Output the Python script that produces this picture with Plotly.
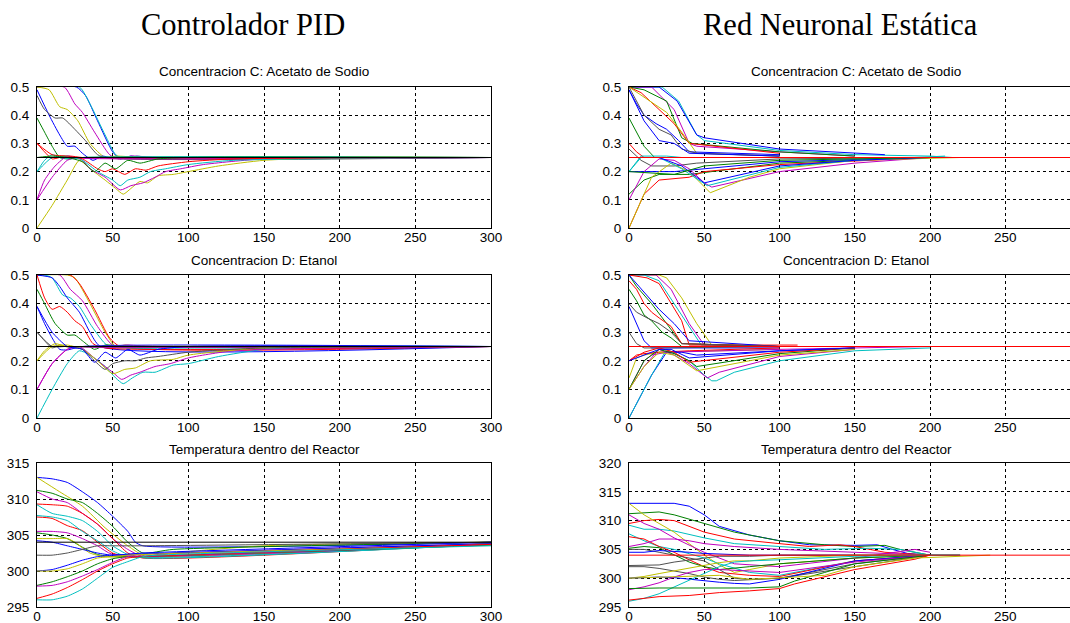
import plotly.graph_objects as go

# ---------------- data ----------------
COLORS = {"b": "#0000FF", "g": "#008000", "r": "#FF0000", "c": "#00BFBF",
          "m": "#BF00BF", "y": "#BFBF00", "k": "#505050"}

main_titles = ["Controlador PID", "Red Neuronal Estática"]
panel_titles = ["Concentracion C: Acetato de Sodio", "Concentracion D: Etanol",
                "Temperatura dentro del Reactor"]

x_ticks_pid = [0, 50, 100, 150, 200, 250, 300]
x_ticks_rn = [0, 50, 100, 150, 200, 250]
conc_ticks = [0, 0.1, 0.2, 0.3, 0.4, 0.5]
temp_ticks_pid = [295, 300, 305, 310, 315]
temp_ticks_rn = [295, 300, 305, 310, 315, 320]

setpoint_conc = 0.25
setpoint_temp = 304

# PID - Concentracion C
pid_c = [
    ("b", [0, 26, 32, 40, 50, 55, 62, 70, 85, 300], [0.5, 0.5, 0.47, 0.38, 0.27, 0.245, 0.255, 0.248, 0.25, 0.25]),
    ("c", [0, 28, 35, 45, 52, 58, 66, 75, 100, 300], [0.5, 0.5, 0.44, 0.33, 0.26, 0.245, 0.255, 0.248, 0.25, 0.25]),
    ("m", [0, 18, 25, 30, 38, 48, 54, 62, 80, 300], [0.5, 0.5, 0.44, 0.41, 0.34, 0.26, 0.245, 0.255, 0.25, 0.25]),
    ("y", [0, 8, 15, 20, 27, 35, 45, 52, 70, 300], [0.5, 0.49, 0.43, 0.42, 0.38, 0.3, 0.25, 0.255, 0.25, 0.25]),
    ("b", [0, 8, 15, 20, 25, 30, 37, 43, 50, 300], [0.49, 0.4, 0.33, 0.29, 0.29, 0.265, 0.24, 0.255, 0.248, 0.25]),
    ("k", [0, 5, 12, 17, 25, 32, 40, 47, 300], [0.47, 0.42, 0.39, 0.39, 0.35, 0.31, 0.26, 0.248, 0.25]),
    ("g", [0, 5, 10, 15, 20, 30, 300], [0.39, 0.34, 0.29, 0.25, 0.245, 0.25, 0.25]),
    ("r", [0, 5, 10, 15, 22, 30, 300], [0.3, 0.27, 0.245, 0.25, 0.255, 0.25, 0.25]),
    ("c", [0, 5, 10, 15, 22, 30, 300], [0.2, 0.24, 0.26, 0.25, 0.245, 0.25, 0.25]),
    ("m", [0, 5, 12, 20, 27, 300], [0.1, 0.17, 0.22, 0.255, 0.248, 0.25]),
    ("y", [0, 10, 20, 28, 35, 45, 52, 57, 62, 68, 73, 80, 90, 100, 120, 150, 200, 300],
     [0, 0.08, 0.17, 0.24, 0.21, 0.17, 0.14, 0.12, 0.14, 0.165, 0.16, 0.185, 0.19, 0.2, 0.22, 0.24, 0.25, 0.25]),
    ("m", [0, 10, 20, 28, 35, 45, 55, 62, 70, 78, 85, 95, 110, 150, 300],
     [0.1, 0.18, 0.24, 0.25, 0.21, 0.18, 0.135, 0.15, 0.16, 0.18, 0.2, 0.21, 0.225, 0.245, 0.25]),
    ("c", [0, 10, 20, 30, 40, 50, 55, 60, 68, 75, 85, 100, 130, 300],
     [0.2, 0.25, 0.255, 0.24, 0.2, 0.17, 0.15, 0.17, 0.18, 0.2, 0.21, 0.225, 0.24, 0.25]),
    ("r", [0, 10, 20, 30, 40, 45, 50, 58, 65, 72, 80, 100, 130, 300],
     [0.3, 0.26, 0.255, 0.245, 0.21, 0.2, 0.21, 0.19, 0.21, 0.205, 0.22, 0.235, 0.245, 0.25]),
    ("g", [0, 10, 20, 30, 38, 45, 52, 60, 68, 80, 100, 300],
     [0.25, 0.255, 0.25, 0.235, 0.2, 0.23, 0.21, 0.24, 0.23, 0.245, 0.25, 0.25]),
]

# Red Neuronal - Concentracion C
rn_c = [
    ("c", [0, 22, 33, 45, 50, 100, 150, 200, 215], [0.5, 0.5, 0.45, 0.33, 0.31, 0.275, 0.26, 0.255, 0.25]),
    ("b", [0, 20, 32, 45, 50, 100, 170], [0.5, 0.5, 0.45, 0.33, 0.32, 0.28, 0.26]),
    ("m", [0, 15, 30, 40, 45, 100, 150], [0.5, 0.5, 0.42, 0.3, 0.29, 0.27, 0.255]),
    ("g", [0, 10, 25, 35, 42, 100, 150], [0.5, 0.49, 0.45, 0.32, 0.3, 0.27, 0.255]),
    ("r", [0, 8, 20, 30, 40, 100], [0.5, 0.48, 0.42, 0.37, 0.3, 0.265]),
    ("y", [0, 25, 35, 45, 100], [0.5, 0.41, 0.34, 0.265, 0.255]),
    ("b", [0, 5, 10, 18, 25, 33, 40, 100], [0.49, 0.44, 0.4, 0.37, 0.35, 0.31, 0.27, 0.26]),
    ("k", [0, 10, 20, 28, 35, 45, 100], [0.5, 0.4, 0.35, 0.33, 0.28, 0.265, 0.255]),
    ("b", [0, 10, 20, 30, 40, 100], [0.49, 0.38, 0.31, 0.3, 0.265, 0.255]),
    ("g", [0, 5, 10, 17, 25, 100], [0.39, 0.34, 0.29, 0.25, 0.25, 0.25]),
    ("r", [0, 5, 10, 20, 100], [0.3, 0.27, 0.25, 0.25, 0.25]),
    ("c", [0, 8, 15, 25, 35, 100], [0.2, 0.255, 0.255, 0.255, 0.25, 0.25]),
    ("k", [0, 8, 15, 30, 45, 100, 200], [0.28, 0.24, 0.22, 0.22, 0.23, 0.245, 0.25]),
    ("b", [0, 30, 100, 200], [0.2, 0.2, 0.235, 0.25]),
    ("g", [0, 10, 20, 40, 100, 200], [0.12, 0.17, 0.19, 0.19, 0.23, 0.25]),
    ("r", [0, 10, 20, 40, 50, 100, 200], [0, 0.12, 0.17, 0.18, 0.2, 0.225, 0.25]),
    ("m", [0, 10, 20, 30, 40, 50, 55, 100, 150, 200], [0.1, 0.2, 0.245, 0.24, 0.21, 0.16, 0.145, 0.2, 0.23, 0.25]),
    ("y", [0, 15, 28, 40, 54, 80, 100, 150, 220], [0, 0.18, 0.23, 0.2, 0.125, 0.18, 0.21, 0.24, 0.25]),
    ("c", [0, 8, 20, 35, 52, 100, 150, 210], [0.2, 0.25, 0.25, 0.21, 0.15, 0.215, 0.24, 0.255]),
    ("b", [0, 20, 35, 50, 100, 150, 200], [0.25, 0.25, 0.22, 0.16, 0.22, 0.24, 0.25]),
    ("g", [0, 30, 50, 100, 150, 200], [0.2, 0.19, 0.22, 0.24, 0.245, 0.25]),
]

# PID - Concentracion D
pid_d = [
    ("y", [0, 20, 25, 35, 45, 52, 58, 70, 300], [0.5, 0.5, 0.49, 0.4, 0.3, 0.25, 0.255, 0.25, 0.25]),
    ("r", [0, 22, 28, 38, 48, 55, 300], [0.5, 0.5, 0.47, 0.38, 0.28, 0.25, 0.25]),
    ("m", [0, 15, 22, 30, 40, 50, 60, 80, 300], [0.5, 0.5, 0.45, 0.41, 0.32, 0.255, 0.255, 0.25, 0.25]),
    ("c", [0, 5, 10, 17, 22, 28, 35, 45, 50, 300], [0.5, 0.5, 0.49, 0.43, 0.42, 0.39, 0.33, 0.26, 0.248, 0.25]),
    ("b", [0, 10, 15, 20, 28, 35, 42, 300], [0.5, 0.49, 0.46, 0.42, 0.37, 0.3, 0.25, 0.25]),
    ("r", [0, 5, 10, 15, 20, 25, 30, 37, 45, 300], [0.5, 0.42, 0.38, 0.39, 0.37, 0.34, 0.32, 0.26, 0.245, 0.25]),
    ("g", [0, 5, 12, 20, 25, 30, 38, 45, 60, 300], [0.45, 0.4, 0.33, 0.29, 0.29, 0.27, 0.24, 0.255, 0.25, 0.25]),
    ("b", [0, 5, 10, 15, 20, 30, 300], [0.39, 0.33, 0.28, 0.24, 0.238, 0.25, 0.25]),
    ("k", [0, 5, 10, 15, 20, 300], [0.3, 0.27, 0.245, 0.255, 0.25, 0.25]),
    ("y", [0, 5, 12, 20, 30, 300], [0.2, 0.235, 0.26, 0.248, 0.25, 0.25]),
    ("m", [0, 10, 20, 27, 35, 300], [0.1, 0.19, 0.24, 0.25, 0.248, 0.25]),
    ("c", [0, 10, 20, 28, 35, 45, 52, 57, 63, 70, 78, 90, 100, 120, 150, 200, 300],
     [0, 0.1, 0.19, 0.235, 0.22, 0.18, 0.14, 0.12, 0.14, 0.16, 0.16, 0.185, 0.19, 0.215, 0.24, 0.25, 0.25]),
    ("m", [0, 10, 20, 28, 40, 50, 56, 62, 68, 78, 88, 100, 130, 300],
     [0.1, 0.19, 0.24, 0.25, 0.2, 0.16, 0.135, 0.15, 0.16, 0.18, 0.19, 0.21, 0.235, 0.25]),
    ("y", [0, 10, 20, 30, 40, 50, 58, 65, 75, 90, 100, 150, 300],
     [0.2, 0.25, 0.255, 0.24, 0.2, 0.155, 0.17, 0.175, 0.2, 0.205, 0.22, 0.245, 0.25]),
    ("k", [0, 10, 20, 30, 38, 45, 50, 58, 65, 72, 80, 100, 150, 300],
     [0.3, 0.25, 0.25, 0.24, 0.2, 0.17, 0.19, 0.2, 0.2, 0.21, 0.215, 0.23, 0.245, 0.25]),
    ("b", [0, 10, 20, 30, 38, 45, 52, 60, 68, 80, 100, 300],
     [0.39, 0.3, 0.25, 0.24, 0.195, 0.23, 0.21, 0.24, 0.22, 0.24, 0.25, 0.25]),
]

# Red Neuronal - Concentracion D
rn_d = [
    ("y", [0, 20, 25, 35, 45, 55, 100, 210], [0.5, 0.5, 0.49, 0.42, 0.33, 0.255, 0.25, 0.25]),
    ("m", [0, 18, 28, 40, 50, 100], [0.5, 0.5, 0.45, 0.33, 0.255, 0.25]),
    ("c", [0, 10, 20, 30, 40, 48, 100], [0.5, 0.5, 0.48, 0.4, 0.32, 0.255, 0.25]),
    ("r", [0, 12, 20, 28, 35, 40, 112], [0.5, 0.49, 0.47, 0.4, 0.34, 0.255, 0.255]),
    ("g", [0, 5, 15, 25, 35, 100], [0.5, 0.46, 0.4, 0.33, 0.26, 0.25]),
    ("b", [0, 10, 20, 30, 40, 100], [0.5, 0.44, 0.38, 0.33, 0.27, 0.25]),
    ("r", [0, 5, 10, 15, 20, 28, 35, 100], [0.48, 0.45, 0.4, 0.37, 0.35, 0.32, 0.26, 0.25]),
    ("g", [0, 5, 10, 15, 22, 28, 35, 100], [0.45, 0.41, 0.36, 0.34, 0.3, 0.28, 0.25, 0.25]),
    ("k", [0, 5, 12, 20, 28, 35, 100], [0.4, 0.37, 0.35, 0.33, 0.3, 0.26, 0.25]),
    ("b", [0, 5, 10, 15, 100], [0.39, 0.33, 0.27, 0.245, 0.245]),
    ("k", [0, 5, 10, 20, 100], [0.3, 0.26, 0.245, 0.245, 0.25]),
    ("y", [0, 5, 10, 20, 100], [0.14, 0.21, 0.22, 0.23, 0.24]),
    ("r", [0, 5, 10, 20, 40, 100], [0.2, 0.22, 0.225, 0.23, 0.235, 0.245]),
    ("m", [0, 10, 15, 25, 100, 200], [0.1, 0.2, 0.22, 0.23, 0.24, 0.25]),
    ("b", [0, 15, 25, 35, 45, 100, 150], [0, 0.15, 0.23, 0.23, 0.22, 0.235, 0.245]),
    ("c", [0, 15, 25, 40, 50, 55, 58, 70, 100, 150, 200], [0, 0.15, 0.24, 0.2, 0.15, 0.13, 0.13, 0.16, 0.2, 0.235, 0.245]),
    ("m", [0, 10, 20, 30, 40, 52, 60, 100, 150], [0.1, 0.18, 0.24, 0.22, 0.19, 0.14, 0.16, 0.215, 0.24]),
    ("g", [0, 10, 20, 30, 40, 45, 100, 150], [0.1, 0.2, 0.24, 0.225, 0.2, 0.18, 0.225, 0.245]),
    ("r", [0, 10, 20, 30, 40, 100, 150], [0.2, 0.23, 0.245, 0.23, 0.195, 0.23, 0.245]),
    ("y", [0, 10, 20, 30, 45, 100, 150], [0.1, 0.18, 0.23, 0.22, 0.165, 0.22, 0.24]),
    ("b", [0, 20, 28, 40, 100, 150], [0.2, 0.24, 0.24, 0.21, 0.235, 0.245]),
]

# PID - Temperatura
pid_t = [
    ("b", [0, 10, 20, 30, 40, 50, 60, 65, 70, 300], [313, 312.8, 312.3, 311, 309.5, 307.6, 305.5, 304, 303.5, 304]),
    ("y", [0, 15, 30, 45, 60, 72, 90, 150, 300], [313, 311, 309, 306, 303.5, 302, 302.5, 303.5, 304]),
    ("g", [0, 10, 20, 30, 40, 50, 60, 70, 90, 300], [311.2, 310.8, 310, 309.5, 308, 306.2, 304, 302.5, 303, 304]),
    ("m", [0, 10, 20, 30, 40, 50, 60, 70, 80, 300], [311, 310, 309.5, 308, 306.5, 304.5, 303, 302, 302.3, 303.8]),
    ("r", [0, 10, 20, 30, 40, 50, 60, 70, 300], [309.3, 309.2, 309, 308, 306.5, 304.5, 302.5, 301.8, 303.8]),
    ("c", [0, 10, 20, 30, 40, 50, 60, 72, 300], [309.2, 308, 307.6, 307, 305.5, 303.5, 302.3, 301.8, 303.7]),
    ("r", [0, 10, 20, 30, 40, 50, 60, 300], [307.5, 307.3, 306.3, 305.6, 304, 302.5, 302, 303.8]),
    ("c", [0, 10, 20, 30, 40, 50, 60, 300], [307.7, 307.5, 307, 305.5, 304.2, 302.8, 302, 303.7]),
    ("m", [0, 10, 20, 30, 40, 50, 300], [305.5, 305.5, 305.3, 304.5, 303.5, 302.3, 303.8]),
    ("g", [0, 10, 20, 30, 40, 50, 300], [305.3, 305, 304.5, 303.3, 302.3, 302, 303.8]),
    ("y", [0, 10, 20, 25, 35, 45, 300], [304.5, 304.5, 304.5, 304, 302.5, 302, 303.8]),
    ("b", [0, 10, 20, 30, 40, 50, 70, 300], [304.2, 304, 303.5, 303, 302.5, 302.2, 302.5, 304]),
    ("k", [0, 10, 20, 30, 40, 50, 70, 300], [302.2, 302.2, 302.5, 303, 303.5, 303.5, 303.5, 304]),
    ("b", [0, 10, 20, 30, 40, 50, 60, 300], [300, 300.2, 300.8, 301.5, 302, 302.2, 302.3, 303.8]),
    ("y", [0, 10, 20, 30, 40, 50, 60, 300], [300, 300, 300.3, 301, 301.8, 302, 302.2, 303.6]),
    ("g", [0, 10, 20, 30, 40, 50, 60, 70, 300], [298, 298.5, 299.2, 300, 301, 301.7, 302, 302, 303.6]),
    ("m", [0, 10, 20, 30, 40, 50, 60, 70, 300], [297.9, 298, 298.5, 299.3, 300.2, 301.2, 302, 302, 303.7]),
    ("r", [0, 10, 20, 30, 40, 50, 60, 70, 300], [296.2, 296.8, 297.7, 298.8, 300, 301, 301.8, 302, 303.7]),
    ("c", [0, 10, 20, 30, 40, 50, 60, 70, 80, 300], [296, 296, 296.5, 297.5, 299, 300.5, 301.3, 302, 302.2, 303.5]),
]

# Red Neuronal - Temperatura
rn_t = [
    ("b", [0, 30, 40, 50, 60, 80, 100, 120, 150, 165, 175, 185, 200, 220],
     [313, 313, 312.5, 311, 309, 307.5, 306.5, 305.8, 305.7, 305.8, 305, 304.3, 304, 304]),
    ("g", [0, 10, 20, 30, 50, 70, 100, 130, 150, 170, 180, 200, 220],
     [311.2, 311.3, 311.5, 311, 309.5, 308, 306.5, 305.8, 305.5, 305.7, 305, 304, 304]),
    ("r", [0, 10, 20, 30, 50, 70, 100, 120, 140, 150, 170, 200],
     [309.5, 310, 310.2, 310, 308, 306.8, 306, 305.5, 305.8, 305.5, 304.5, 304]),
    ("c", [0, 10, 20, 30, 50, 70, 100, 130, 160, 180, 200, 220],
     [309.2, 308.5, 308.5, 308.2, 307, 306, 305.5, 305, 305.2, 305, 304, 304]),
    ("y", [0, 10, 20, 30, 40, 50, 60, 70, 80, 100, 150, 200],
     [313, 311, 309.5, 308, 306, 304, 302.3, 301, 301.5, 302.5, 303.5, 304]),
    ("m", [0, 10, 20, 30, 50, 70, 100, 150, 190, 200],
     [311, 309.5, 308.5, 307, 304.5, 302.5, 302, 303.5, 305, 304.5]),
    ("c", [0, 10, 20, 30, 50, 60, 80, 100, 150, 200],
     [307.7, 306.5, 305.5, 305, 303.5, 302.5, 301, 300.5, 303, 304]),
    ("r", [0, 10, 20, 30, 40, 50, 60, 80, 100, 150, 200],
     [307.2, 306.8, 305.5, 304.5, 303.2, 302, 301, 300.5, 300.3, 303, 304]),
    ("m", [0, 10, 20, 30, 40, 50, 70, 100, 150, 200],
     [305.5, 306, 306.8, 306.8, 306.5, 306, 305.5, 305, 304.5, 304]),
    ("g", [0, 10, 20, 30, 40, 50, 60, 80, 100, 150, 200],
     [305.2, 305.5, 305.3, 304, 302.8, 302, 301.5, 302, 302.5, 303.5, 304]),
    ("k", [0, 10, 20, 30, 40, 50, 60, 70, 80, 100, 150, 200],
     [305, 305, 304.5, 304, 303.5, 303, 301.5, 300, 299.8, 300, 302.5, 304]),
    ("b", [0, 10, 20, 30, 40, 50, 60, 80, 100, 150, 200],
     [304.5, 304.5, 304.8, 304.7, 304.5, 304.3, 304.2, 304, 304, 304, 304]),
    ("k", [0, 10, 20, 30, 40, 50, 60, 80, 100, 150, 200],
     [302.2, 302.2, 302.3, 302.8, 303.2, 303.5, 303.8, 303.8, 304, 304, 304]),
    ("k", [0, 10, 20, 30, 40, 50, 60, 70, 100, 150, 200],
     [302, 302, 301.7, 301.3, 300.8, 300.2, 299.8, 299.6, 300, 302, 304]),
    ("y", [0, 10, 20, 30, 40, 50, 60, 70, 80, 100, 150, 200],
     [300, 300.3, 300.8, 301.3, 301.8, 302.2, 302.7, 303, 303, 303.5, 304, 304]),
    ("b", [0, 10, 20, 30, 40, 50, 60, 70, 80, 100, 150, 200],
     [300, 300.1, 300.2, 300.1, 299.8, 299.5, 299.3, 299.1, 299, 299.8, 303, 304]),
    ("m", [0, 10, 20, 30, 40, 50, 60, 80, 100, 150, 200],
     [298, 298.5, 299.2, 300.2, 301, 301.5, 301.5, 301.3, 301, 302.8, 304]),
    ("c", [0, 10, 20, 30, 40, 50, 60, 70, 80, 100, 150, 200],
     [296, 296.5, 297.3, 298.5, 299.7, 300.8, 302, 302.8, 303, 303.2, 303.8, 304]),
    ("g", [0, 10, 20, 30, 50, 80, 100, 110, 130, 150, 200],
     [298.2, 298.3, 298.3, 298.3, 298.3, 298.3, 298.5, 299.5, 301, 302.5, 304]),
    ("r", [0, 20, 40, 60, 80, 100, 110, 130, 150, 190, 200],
     [296.2, 296.8, 297, 297.5, 297.8, 298.2, 299, 300.3, 301.5, 303.3, 304]),
    ("y", [0, 60, 80, 100, 110, 130, 150, 190, 240],
     [300, 300.5, 299.8, 300, 300.2, 300.5, 302, 303.5, 304]),
]

# ---------------- layout geometry ----------------
W, H = 1070, 623
left_dom = [37 / W, 491 / W]
right_dom = [629 / W, 1.0]
row_dom = [[1 - 228 / H, 1 - 87 / H], [1 - 418 / H, 1 - 275 / H], [1 - 607 / H, 1 - 463 / H]]

fig = go.Figure()

panels = [
    (pid_c, 1, left_dom, 0, [0, 300], [0, 0.5], x_ticks_pid, conc_ticks, setpoint_conc, "#000000", "spline", False),
    (rn_c, 2, right_dom, 0, [0, 293], [0, 0.5], x_ticks_rn, conc_ticks, setpoint_conc, "#FF0000", "linear", True),
    (pid_d, 3, left_dom, 1, [0, 300], [0, 0.5], x_ticks_pid, conc_ticks, setpoint_conc, "#000000", "spline", False),
    (rn_d, 4, right_dom, 1, [0, 293], [0, 0.5], x_ticks_rn, conc_ticks, setpoint_conc, "#FF0000", "linear", True),
    (pid_t, 5, left_dom, 2, [0, 300], [295, 315], x_ticks_pid, temp_ticks_pid, setpoint_temp, "#000000", "spline", False),
    (rn_t, 6, right_dom, 2, [0, 293], [295, 320], x_ticks_rn, temp_ticks_rn, setpoint_temp, "#FF0000", "linear", True),
]

tick_font = dict(family="Liberation Sans, Arial, sans-serif", size=13.5, color="#000000")

for curves, idx, xd, row, xr, yr, xt, yt, sp, spc, shape, right in panels:
    xa = "x" if idx == 1 else f"x{idx}"
    ya = "y" if idx == 1 else f"y{idx}"
    for col, t, v in curves:
        fig.add_trace(go.Scatter(x=t, y=v, mode="lines", xaxis=xa, yaxis=ya,
                                 line=dict(color=COLORS[col], width=1, shape=shape,
                                           **({"smoothing": 0.6} if shape == "spline" else {})),
                                 showlegend=False, hoverinfo="skip"))
    fig.add_trace(go.Scatter(x=[xr[0], xr[1]], y=[sp, sp], mode="lines", xaxis=xa, yaxis=ya,
                             line=dict(color=spc, width=1), showlegend=False, hoverinfo="skip"))
    key = "" if idx == 1 else str(idx)
    fig.layout["xaxis" + key] = dict(
        domain=xd, anchor=ya, range=xr, tickvals=xt, ticktext=[str(v) for v in xt],
        showgrid=True, gridcolor="#000000", gridwidth=1, griddash="3px,3px",
        showline=True, linecolor="#000000", linewidth=1, mirror=True, automargin=False,
        zeroline=False, ticks="", tickfont=tick_font, ticklabelstandoff=-3)
    fig.layout["yaxis" + key] = dict(
        domain=row_dom[row], anchor=xa, range=yr, tickvals=yt, ticktext=[f"{v:g}" for v in yt],
        showgrid=True, gridcolor="#000000", gridwidth=1, griddash="3px,3px",
        showline=True, linecolor="#000000", linewidth=1, mirror=(not right), automargin=False,
        zeroline=False, ticks="", tickfont=tick_font, ticklabelstandoff=4)

annotations = []
title_font = dict(family="Liberation Serif, Times New Roman, serif", size=30.5, color="#000000")
annotations.append(dict(text=main_titles[0], x=243 / W, y=1 - 25 / H, xref="paper", yref="paper",
                        showarrow=False, font=title_font, xanchor="center", yanchor="middle"))
annotations.append(dict(text=main_titles[1], x=840 / W, y=1 - 25 / H, xref="paper", yref="paper",
                        showarrow=False, font=title_font, xanchor="center", yanchor="middle"))
sub_font = dict(family="Liberation Sans, Arial, sans-serif", size=13.5, color="#000000")
sub_y = [71, 260, 449]
for r, ttl in enumerate(panel_titles):
    for cx in (264, 856):
        annotations.append(dict(text=ttl, x=cx / W, y=1 - sub_y[r] / H, xref="paper", yref="paper",
                                showarrow=False, font=sub_font, xanchor="center", yanchor="middle"))

fig.update_layout(width=W, height=H, margin=dict(l=0, r=0, t=0, b=0, autoexpand=False),
                  paper_bgcolor="#FFFFFF", plot_bgcolor="#FFFFFF",
                  annotations=annotations, showlegend=False)

fig.write_html("out.html", config={"displayModeBar": False},
               post_script="document.body.style.margin='0';document.body.style.overflow='hidden';")
